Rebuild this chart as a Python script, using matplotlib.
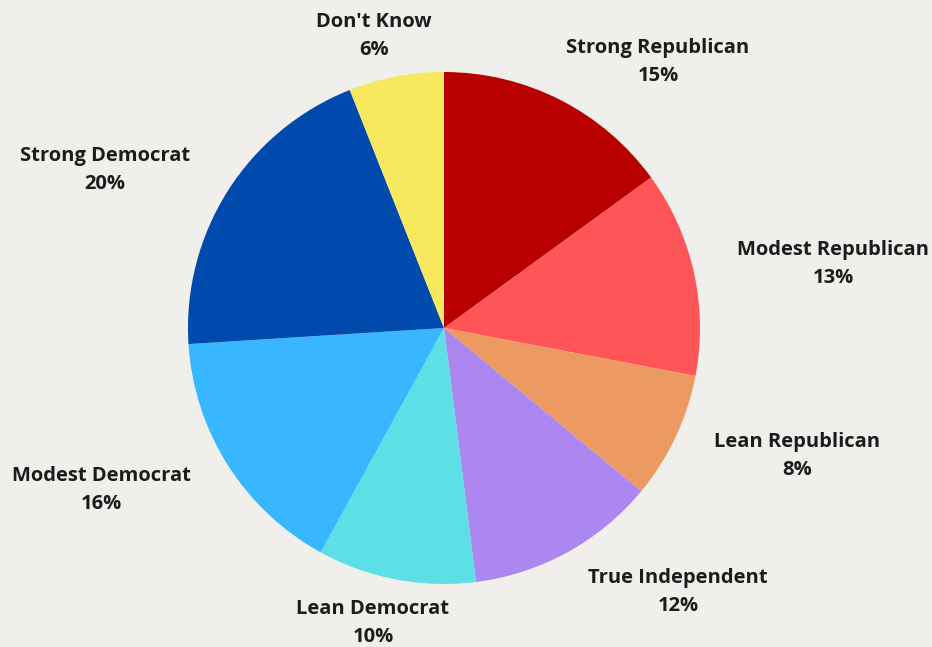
import matplotlib
matplotlib.use("Agg")
import matplotlib.pyplot as plt

# --- data ---
labels = ["Strong Republican", "Modest Republican", "Lean Republican", "True Independent",
          "Lean Democrat", "Modest Democrat", "Strong Democrat", "Don't Know"]
shares = [15, 13, 8, 12, 10, 16, 20, 6]
colors = ["#b80000", "#ff5558", "#ec9a62", "#ac87f2", "#5ce0e6", "#38b6ff", "#004aad", "#f7e85e"]

# label anchor positions (pixel coords, top-left origin)
label_pos = [(658, 62), (833, 264), (797, 456), (678, 592),
             (373, 623), (101, 490), (105, 170), (374, 36)]

BG = "#f0efeb"
W, H = 932, 647

fig = plt.figure(figsize=(W / 100, H / 100), dpi=100, facecolor=BG)
ax = fig.add_axes([0, 0, 1, 1])
ax.set_facecolor(BG)

ax.pie(shares, colors=colors, startangle=90, counterclock=False,
       center=(444, H - 328), radius=256, frame=True,
       wedgeprops=dict(linewidth=0))
ax.set_xlim(0, W); ax.set_ylim(0, H)
ax.set_aspect("equal")
ax.axis("off")

for lab, v, (x, y) in zip(labels, shares, label_pos):
    ax.text(x, H - y, f"{lab}\n{v}%", ha="center", va="center", fontsize=14.5,
            fontweight="bold", family=["Open Sans", "DejaVu Sans"], color="#1c1c1c",
            linespacing=1.5)

fig.savefig("out.png", dpi=100, facecolor=BG)
